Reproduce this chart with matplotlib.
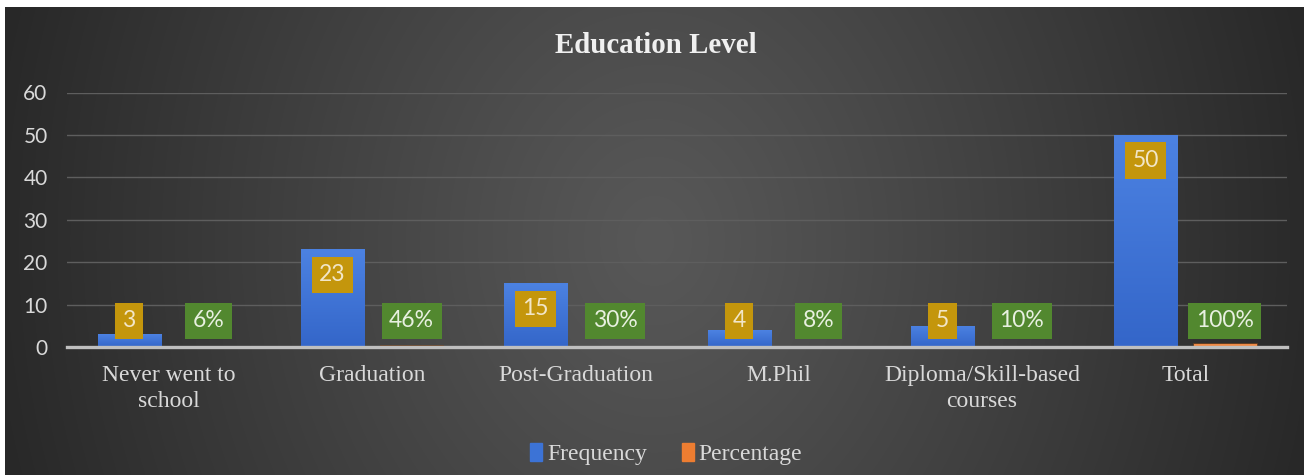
import numpy as np
import matplotlib
matplotlib.use("Agg")
import matplotlib.pyplot as plt
from matplotlib.colors import LinearSegmentedColormap
from matplotlib.patches import Patch

categories = ["Never went to\nschool", "Graduation", "Post-Graduation", "M.Phil",
              "Diploma/Skill-based\ncourses", "Total"]
frequency = [3, 23, 15, 4, 5, 50]
percentage = [6, 46, 30, 8, 10, 100]          # shown as %, plotted as fractions
y_ticks = [0, 10, 20, 30, 40, 50, 60]

SERIF = "Liberation Serif"
SANS = "Lato"
plt.rcParams["font.family"] = [SERIF, "DejaVu Serif"]

TEXT = "#d9d9d9"
BLUE_TOP, BLUE_BOT = "#4C82E2", "#3466C9"
ORANGE = "#F08A45"
GOLD = "#C4960C"
GREEN = "#52882F"

W, H = 1304, 475
fig = plt.figure(figsize=(W / 100, H / 100), dpi=100, facecolor="white")

# dark chart-area background with a soft radial glow
bg = fig.add_axes([5 / W, 0, 1 - 5 / W, 1 - 7 / H])
bg.set_axis_off()
gx = np.linspace(-1, 1, 600)
gy = np.linspace(-1, 1, 240)
X, Y = np.meshgrid(gx, gy)
r = np.sqrt(X ** 2 + (0.3 * Y) ** 2)
v = np.clip(88 - 46 * r ** 1.1, 40, 90) / 255.0
bg.imshow(np.dstack([v, v, v]), extent=[0, 1, 0, 1], aspect="auto", interpolation="bilinear")
bg.set_xlim(0, 1)
bg.set_ylim(0, 1)

ax = fig.add_axes([67 / W, (H - 347) / H, (1287 - 67) / W, (347 - 92.5) / H])
ax.set_facecolor("none")

x = np.arange(len(categories))
bw = 0.31
off = 0.195

blue_bars = ax.bar(x - off, frequency, bw, color=BLUE_BOT, zorder=3)
orange_bars = ax.bar(x + off, np.array(percentage) / 100.0, bw, color=ORANGE, zorder=3,
                     edgecolor="#5a3a20", linewidth=0.6)

# vertical gradient fill on the frequency bars
cmap = LinearSegmentedColormap.from_list("bluegrad", [BLUE_BOT, BLUE_TOP])
grad = np.linspace(0, 1, 100).reshape(-1, 1)
for b in blue_bars:
    x0, y0 = b.get_x(), b.get_y()
    im = ax.imshow(grad, cmap=cmap, origin="lower", aspect="auto",
                   extent=[x0, x0 + b.get_width(), y0, y0 + b.get_height()], zorder=3.1)
    im.set_clip_path(b)

ax.set_xlim(-0.5, len(categories) - 0.5)
ax.set_ylim(0, 60)

# data labels
box_h = 8.25      # label box height in data units
floor_top = 10.3  # lowest position of a label box's top edge
for xi, f in zip(x, frequency):
    top = max(f - 1.9, floor_top)
    ax.text(xi - off, top - box_h / 2, str(f), ha="center", va="center",
            fontsize=16.5, family=SANS, color="#f2e6c8", zorder=5,
            bbox=dict(boxstyle="square,pad=0.33", fc=GOLD, ec="none"))
for xi, p in zip(x, percentage):
    ax.text(xi + off, floor_top - box_h / 2, f"{p}%", ha="center", va="center",
            fontsize=16.5, family=SANS, color="#e8f0e0", zorder=5,
            bbox=dict(boxstyle="square,pad=0.33", fc=GREEN, ec="none"))

# axes styling
ax.set_yticks(y_ticks)
ax.yaxis.grid(True, color="#5e5e5e", linewidth=1.0, zorder=0)
ax.set_axisbelow(True)
for s in ["top", "right", "left"]:
    ax.spines[s].set_visible(False)
ax.spines["bottom"].set_color("#bfbfbf")
ax.spines["bottom"].set_linewidth(2.4)
ax.spines["bottom"].set_zorder(4)
ax.tick_params(axis="y", length=0, pad=14, labelsize=15, labelcolor=TEXT)
ax.tick_params(axis="x", length=0, pad=13, labelsize=17, labelcolor=TEXT)
ax.set_xticks(x)
ax.set_xticklabels(categories, linespacing=1.3)
for lbl in ax.get_xticklabels():
    lbl.set_fontfamily([SERIF])
for lbl in ax.get_yticklabels():
    lbl.set_fontfamily([SANS])

fig.text(0.503, 0.905, "Education Level", ha="center", va="center",
         fontweight="bold", fontsize=20.8, color="#f0f0f0")

handles = [Patch(color="#3C73D6"), Patch(color="#ED7D31")]
leg = fig.legend(handles, ["Frequency", "Percentage"], loc="center",
                 bbox_to_anchor=(0.511, 0.044), ncol=2, frameon=False,
                 handlelength=0.5, handleheight=0.8, handletextpad=0.2,
                 columnspacing=1.5, prop={"family": SERIF, "size": 17})
for t in leg.get_texts():
    t.set_color(TEXT)

fig.savefig("out.png", dpi=100, facecolor=fig.get_facecolor())
